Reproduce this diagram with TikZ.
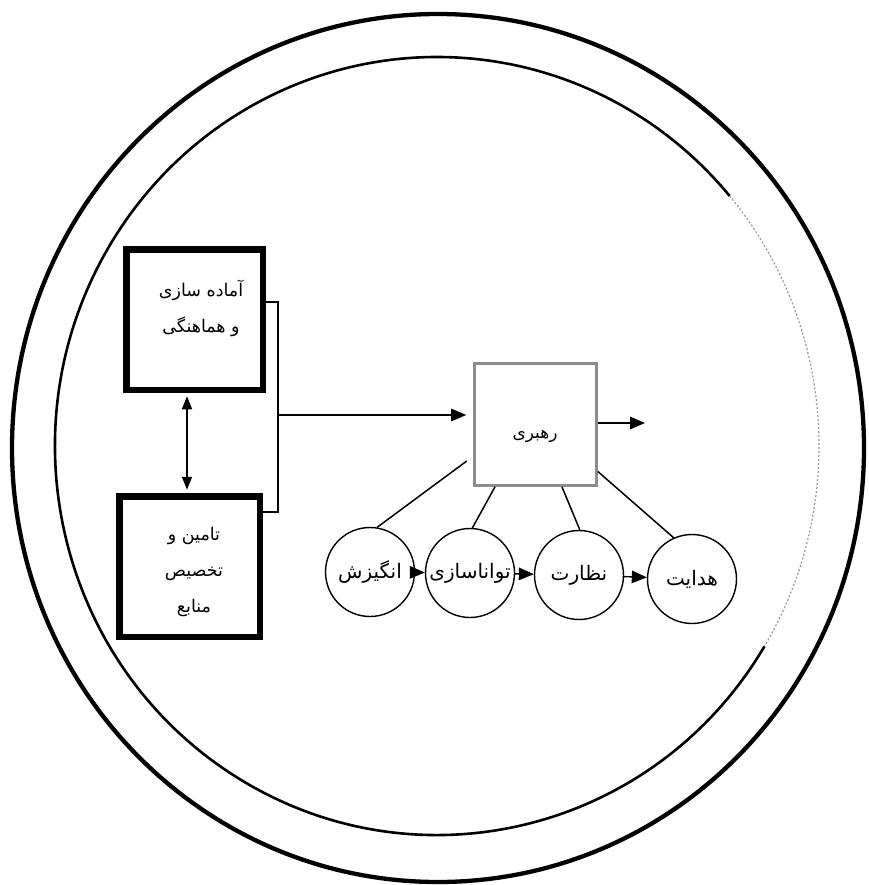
\documentclass[tikz,border=0pt]{standalone}
\usepackage{fontspec}
\newfontfamily\fa[Script=Arabic]{DejaVu Sans}
\TeXXeTstate=1
\usetikzlibrary{arrows.meta}
\tikzset{
  thickbox/.style={draw, line width=6.5pt, inner sep=0pt},
  leadbox/.style={draw=black!45, line width=2.6pt, minimum width=122pt, minimum height=122pt, inner sep=0pt},
  stage/.style={circle, draw, line width=1.4pt, minimum size=89pt, inner sep=0pt, font=\fa\fontsize{20}{24}\selectfont},
  boxtext/.style={align=center, font=\fa\fontsize{17.5}{36}\selectfont, inner sep=0pt},
  link/.style={line width=1.5pt},
  arr/.style={line width=1.4pt, -{Triangle[length=15pt,width=12.5pt]}},
  darr/.style={line width=1.6pt, {Triangle[length=13pt,width=10pt]}-{Triangle[length=13pt,width=10pt]}},
}
\begin{document}
\begin{tikzpicture}[x=1pt,y=-1pt]
\useasboundingbox (0,0) rectangle (868,885);
\fill[white] (0,0) rectangle (868,885);
% outer and inner rings
\draw[line width=4.3pt] (438,448) ellipse [x radius=426, y radius=434];
\draw[line width=2.6pt] (437,446) ++(31:382 and 389) arc[start angle=31, end angle=320, x radius=382, y radius=389];
\draw[line width=1.2pt, draw=black!40, dash pattern=on 2pt off 2pt] (437,446) ++(-40:382 and 389) arc[start angle=-40, end angle=31, x radius=382, y radius=389];
% left boxes
\node[thickbox, minimum width=136.5pt, minimum height=140.5pt] (b1) at (194.5,319.5) {};
\node[thickbox, minimum width=140.5pt, minimum height=140.5pt] (b2) at (189.5,566.5) {};
\node[boxtext] (t1) at (201,308) {\beginR آماده سازی\endR\\\beginR و هماهنگی\endR};
\node[boxtext] (t2) at (194,572) {\beginR تامین و\endR\\\beginR تخصیص\endR\\\beginR منابع\endR};
% leadership box
\node[leadbox] (rb) at (535.5,424.5) {};
\node[font=\fa\fontsize{17}{20}\selectfont, inner sep=0pt] (rt) at (535,436) {\beginR رهبری\endR};
% stages
\node[stage] (c1) at (370,572) {\beginR انگیزش\endR};
\node[stage] (c2) at (470,573) {\beginR تواناسازی\endR};
\node[stage] (c3) at (579,575) {\beginR نظارت\endR};
\node[stage] (c4) at (692,579) {\beginR هدایت\endR};
% bracket
\coordinate (bt) at (278,302);
\coordinate (bm) at (278,415);
\coordinate (bb) at (278,512);
\draw[line width=1.1pt] (b1.east |- bt) -- (bt) -- (bb) -- (b2.east |- bb);
\draw[arr, shorten >=7pt] (bm) -- (rb.west |- bm);
% double arrow
\coordinate (da) at (187,0);
\draw[darr, shorten <=3.25pt, shorten >=3.25pt] (b1.south -| da) -- (b2.north -| da);
% out arrow
\coordinate (oa) at (645,423);
\draw[arr] (rb.east |- oa) -- (oa);
% links from leadership to stages
\draw[link, shorten <=8pt] (rb.207.5) -- (c1.81);
\draw[link] (rb.237) -- (c2.87);
\draw[link] (rb.293) -- (c3.89);
\draw[link] (rb.323) -- (c4.114);
% chain arrows
\draw[arr] (c1) -- (c2);
\draw[arr] (c2) -- (c3);
\draw[arr] (c3) -- (c4);
\end{tikzpicture}
\end{document}
